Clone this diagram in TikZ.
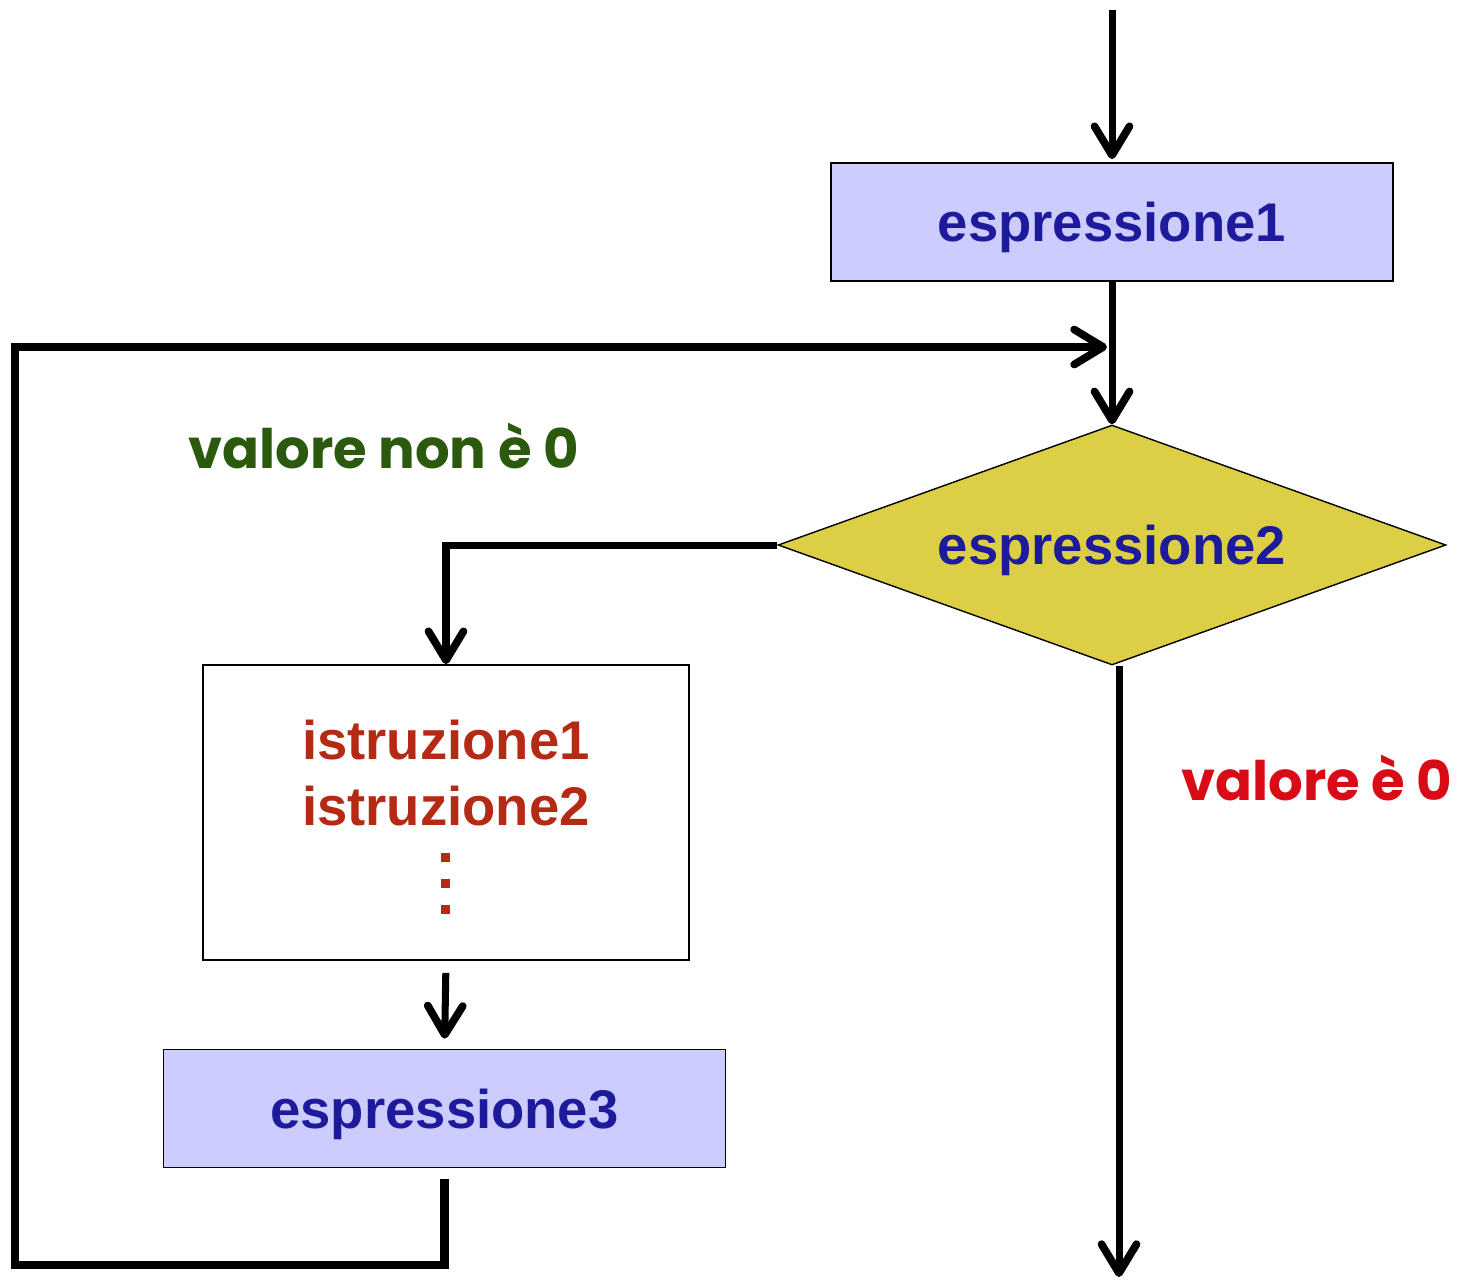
\documentclass[tikz,border=0pt]{standalone}
\usepackage{fontspec}
\setmainfont{Liberation Sans}
\newfontfamily\comicfont{Poppins}
\usetikzlibrary{arrows.meta,shapes.geometric,calc}
\definecolor{boxfill}{HTML}{CCCCFF}
\definecolor{boxtext}{HTML}{1E1A9C}
\definecolor{diafill}{HTML}{DCCF45}
\definecolor{istred}{HTML}{B52A14}
\definecolor{okgreen}{HTML}{2B5A0E}
\definecolor{zerored}{HTML}{D80B16}
\begin{document}
\begin{tikzpicture}[x=0.02cm,y=-0.02cm,
  tip/.style={-{Straight Barb[length=0.58cm,width=0.7cm,line width=4.4pt,round]}},
  flow/.style={line width=4pt,tip},
  loopline/.style={line width=5pt,line join=miter,tip},
  bluebox/.style={draw=black,line width=1pt,fill=boxfill,minimum width=11.24cm,minimum height=2.36cm,inner sep=0pt,
    font=\fontsize{31}{37}\selectfont\bfseries,text=boxtext,text depth=0pt},
  whitebox/.style={draw=black,line width=1pt,fill=white,minimum width=9.72cm,minimum height=5.9cm,inner sep=0pt},
  decision/.style={diamond,shape aspect=2.78,draw=black,line width=0.8pt,fill=diafill,minimum width=13.36cm,minimum height=4.8cm,inner sep=0pt,
    font=\fontsize{31}{37}\selectfont\bfseries,text=boxtext,text depth=0pt},
  isttext/.style={align=center,font=\fontsize{31}{38}\selectfont\bfseries,text=istred,inner sep=0pt},
  lbl/.style={font=\comicfont\fontsize{31}{36}\selectfont\bfseries,anchor=base,inner sep=0pt}]
\useasboundingbox (0,0) rectangle (1459,1279);

\node[bluebox] (e1) at (1112,222) {espressione1};
\node[decision] (d2) at (1112,545) {espressione2};
\node[whitebox] (ist) at (446,812.5) {};
\node[isttext] (itx) at (446,773) {istruzione1\\istruzione2};
\node[bluebox] (e3) at (444.5,1108.5) {espressione3};

\foreach \yy in {857,883,909}
  \fill[istred] (441,\yy-4.5) rectangle (450,\yy+4.5);

\node[lbl,text=okgreen] (lnz) at (383.5,468) {valore non è 0};
\node[lbl,text=zerored] (lz) at (1317,800) {valore è 0};

\coordinate (st) at (1112,10);
\coordinate (j) at (1107,347);
\coordinate (bl) at (15,1265);
\coordinate (en) at (1119,1277);

\draw[flow,shorten >=0.06cm] (st) -- (e1.north);
\draw[flow] (e1.south) -- (d2.north);
\draw[flow] (d2.west) -| (ist.north);
\draw[flow,shorten <=0.24cm,shorten >=0.2cm] (ist.south) -- (e3.north);
\draw[loopline,shorten <=0.22cm] (e3.south) |- (bl) |- (j);
\draw[flow] (d2.south -| en) -- (en);
\end{tikzpicture}
\end{document}
